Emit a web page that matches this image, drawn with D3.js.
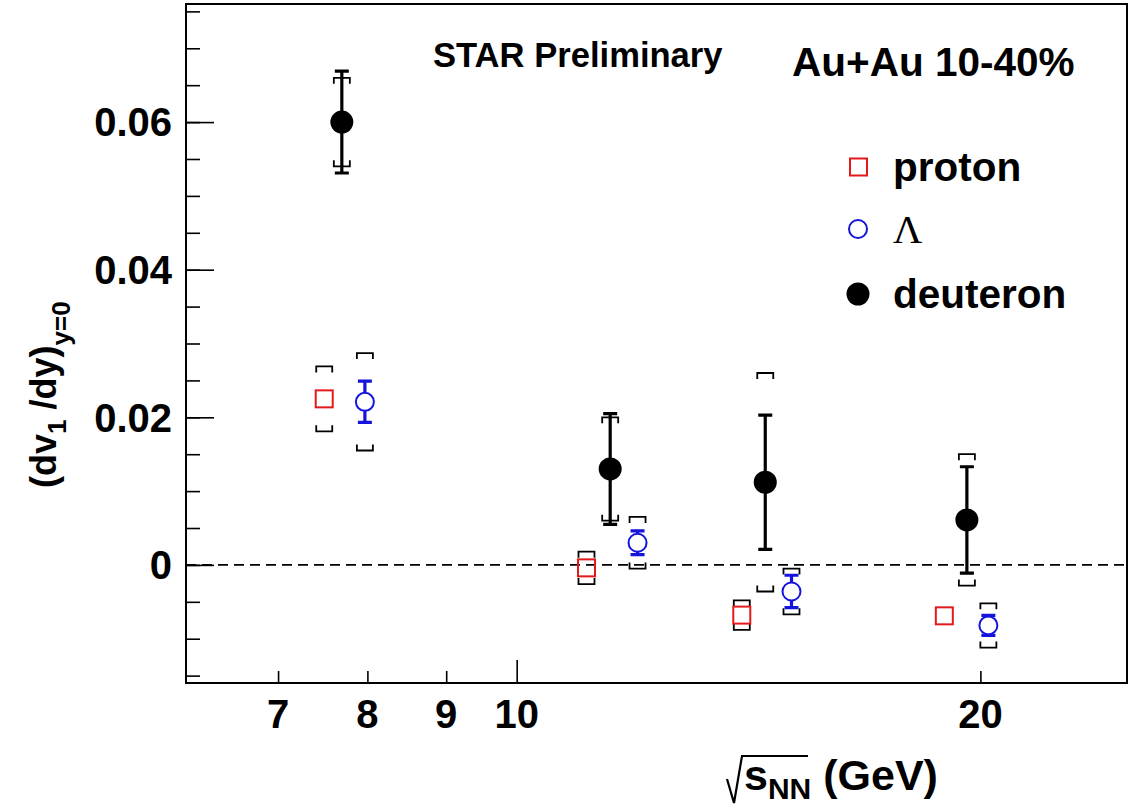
<!DOCTYPE html>
<html>
<head>
<meta charset="utf-8">
<script src="https://cdn.jsdelivr.net/npm/d3@7"></script>
<style>
  body { margin: 0; background: #fff; }
  svg { display: block; font-family: "Liberation Sans", Arial, sans-serif; font-weight: bold; }
</style>
</head>
<body>
<svg id="chart" width="1136" height="810"></svg>
<script>
// plotted collision energies (GeV), species shifted sideways as in the figure
const protonX = [7.5, 11.1, 14.0, 18.95];
const lambdaX = [7.97, 11.98, 15.08, 20.24];
const deuteronX = [7.7, 11.5, 14.5, 19.6];

// (dv1/dy) at y=0
const protonVal = [0.0225, -0.0004, -0.0068, -0.0069];
const protonStat = [0.0006, 0.0005, 0.0006, 0.0005];
const protonSys = [0.0044, 0.0022, 0.0020, 0];

const lambdaVal = [0.0221, 0.0030, -0.0036, -0.0082];
const lambdaStat = [0.0028, 0.0016, 0.0022, 0.00135];
const lambdaSys = [0.0066, 0.0035, 0.0031, 0.0030];

const deuteronVal = [0.0600, 0.0130, 0.0112, 0.0061];
const deuteronStat = [0.0069, 0.0075, 0.0091, 0.0072];
const deuteronSys = [0.0060, 0.0070, 0.0148, 0.0089];

const xTicks = [7, 8, 9, 10, 20];
const xMajor = [10];
const yTicks = [0, 0.02, 0.04, 0.06];
const yMinor = d3.range(-0.015, 0.0751, 0.005);

const legendLabels = ['proton', 'Λ', 'deuteron'];

const plotLeft = 186, plotRight = 1127, plotTop = 4, plotBottom = 683;
const red = '#e3191c', blue = '#1414dc';

const svg = d3.select('#chart');

const x = d3.scaleLog().domain([6.1, 24.9]).range([plotLeft, plotRight]);
const y = d3.scaleLinear().domain([-0.016, 0.076]).range([plotBottom, plotTop]);

// zero line
svg.append('line')
  .attr('x1', plotLeft).attr('x2', plotRight)
  .attr('y1', y(0)).attr('y2', y(0))
  .attr('stroke', '#000').attr('stroke-width', 1.6)
  .attr('stroke-dasharray', '10,6');

// y axis: minor then major ticks, pointing inward
const yMinorAxis = d3.axisRight(y).tickValues(yMinor).tickSize(14).tickFormat('');
svg.append('g').attr('transform', `translate(${plotLeft},0)`).call(yMinorAxis)
  .call(g => g.select('.domain').remove())
  .selectAll('line').attr('stroke-width', 1.6);

const yAxis = d3.axisRight(y).tickValues(yTicks).tickSize(28).tickFormat('');
svg.append('g').attr('transform', `translate(${plotLeft},0)`).call(yAxis)
  .call(g => g.select('.domain').remove())
  .selectAll('line').attr('stroke-width', 1.6);

svg.append('g').selectAll('text')
  .data(yTicks)
  .join('text')
  .attr('x', 172)
  .attr('y', d => y(d))
  .attr('dy', '0.36em')
  .attr('text-anchor', 'end')
  .attr('font-size', 40)
  .text(d => d === 0 ? '0' : d3.format('.2f')(d));

// x axis ticks
const xAxis = d3.axisTop(x).tickValues(xTicks)
  .tickSize(12).tickFormat('');
svg.append('g').attr('transform', `translate(0,${plotBottom})`).call(xAxis)
  .call(g => g.select('.domain').remove())
  .selectAll('line')
  .attr('y2', d => xMajor.includes(d) ? -23 : -12)
  .attr('stroke-width', 1.6);

svg.append('g').selectAll('text')
  .data(xTicks)
  .join('text')
  .attr('x', d => x(d))
  .attr('y', 728)
  .attr('text-anchor', 'middle')
  .attr('font-size', 40)
  .text(d => d);

// frame
svg.append('rect')
  .attr('x', plotLeft).attr('y', plotTop)
  .attr('width', plotRight - plotLeft).attr('height', plotBottom - plotTop)
  .attr('fill', 'none').attr('stroke', '#000').attr('stroke-width', 2);

// helpers
function sysBrackets(g, xs, vals, sys) {
  const w = 8, leg = 6;
  xs.forEach((xv, i) => {
    if (!sys[i]) return;
    const cx = x(xv);
    const yt = y(vals[i] + sys[i]);
    const yb = y(vals[i] - sys[i]);
    g.append('path')
      .attr('d', `M${cx - w},${yt + leg}V${yt}H${cx + w}V${yt + leg}`)
      .attr('fill', 'none').attr('stroke', '#000').attr('stroke-width', 1.8);
    g.append('path')
      .attr('d', `M${cx - w},${yb - leg}V${yb}H${cx + w}V${yb - leg}`)
      .attr('fill', 'none').attr('stroke', '#000').attr('stroke-width', 1.8);
  });
}

function statBars(g, xs, vals, stat, color, half) {
  xs.forEach((xv, i) => {
    const cx = x(xv);
    const yc = y(vals[i]);
    const yt = y(vals[i] + stat[i]);
    const yb = y(vals[i] - stat[i]);
    if (yc - yt <= half) return;
    g.append('path')
      .attr('d', `M${cx},${yc - half}V${yt}M${cx - 7},${yt}H${cx + 7}` +
                 `M${cx},${yc + half}V${yb}M${cx - 7},${yb}H${cx + 7}`)
      .attr('fill', 'none').attr('stroke', color).attr('stroke-width', 3.2);
  });
}

const marks = svg.append('g');

sysBrackets(marks, protonX, protonVal, protonSys);
sysBrackets(marks, lambdaX, lambdaVal, lambdaSys);
sysBrackets(marks, deuteronX, deuteronVal, deuteronSys);

statBars(marks, protonX, protonVal, protonStat, red, 8.5);
statBars(marks, lambdaX, lambdaVal, lambdaStat, blue, 9);
statBars(marks, deuteronX, deuteronVal, deuteronStat, '#000', 0);

marks.selectAll('rect.proton')
  .data(protonX)
  .join('rect')
  .attr('class', 'proton')
  .attr('x', (d, i) => x(d) - 8.5)
  .attr('y', (d, i) => y(protonVal[i]) - 8.5)
  .attr('width', 17).attr('height', 17)
  .attr('fill', 'none').attr('stroke', red).attr('stroke-width', 2);

marks.selectAll('circle.lambda')
  .data(lambdaX)
  .join('circle')
  .attr('class', 'lambda')
  .attr('cx', d => x(d))
  .attr('cy', (d, i) => y(lambdaVal[i]))
  .attr('r', 9)
  .attr('fill', 'none').attr('stroke', blue).attr('stroke-width', 2);

marks.selectAll('circle.deuteron')
  .data(deuteronX)
  .join('circle')
  .attr('class', 'deuteron')
  .attr('cx', d => x(d))
  .attr('cy', (d, i) => y(deuteronVal[i]))
  .attr('r', 11.5)
  .attr('fill', '#000');

// labels
svg.append('text').attr('x', 433).attr('y', 67)
  .attr('font-size', 34.6).text('STAR Preliminary');
svg.append('text').attr('x', 792).attr('y', 76)
  .attr('font-size', 40.5).text('Au+Au 10-40%');

// legend
const legend = svg.append('g');
const legY = [167, 229, 294];
legend.append('rect')
  .attr('x', 850).attr('y', legY[0] - 8.5).attr('width', 17).attr('height', 17)
  .attr('fill', 'none').attr('stroke', red).attr('stroke-width', 2);
legend.append('circle')
  .attr('cx', 858).attr('cy', legY[1]).attr('r', 9)
  .attr('fill', 'none').attr('stroke', blue).attr('stroke-width', 2);
legend.append('circle')
  .attr('cx', 858).attr('cy', legY[2]).attr('r', 11.5).attr('fill', '#000');

legend.selectAll('text')
  .data(legendLabels)
  .join('text')
  .attr('x', 893)
  .attr('y', (d, i) => legY[i] + 14)
  .attr('font-size', 40.5)
  .attr('font-family', (d, i) => i === 1 ? '"Liberation Serif", "Times New Roman", serif' : null)
  .attr('font-weight', (d, i) => i === 1 ? 'normal' : null)
  .text(d => d);

// y title
const yTitle = svg.append('text')
  .attr('transform', 'translate(56,488) rotate(-90)')
  .attr('font-size', 36);
yTitle.append('tspan').text('(dv');
yTitle.append('tspan').attr('font-size', 26).attr('dy', 10).text('1');
yTitle.append('tspan').attr('dy', -10).text(' /dy)');
yTitle.append('tspan').attr('font-size', 26).attr('dy', 14).text('y=0');

// x title with radical sign
svg.append('path')
  .attr('d', 'M727,779L734,803L742,756H808')
  .attr('fill', 'none').attr('stroke', '#000').attr('stroke-width', 2.2);
const xTitle = svg.append('text')
  .attr('x', 744).attr('y', 790)
  .attr('font-size', 43);
xTitle.append('tspan').text('s');
xTitle.append('tspan').attr('font-size', 30).attr('dy', 9).text('NN');
xTitle.append('tspan').attr('dy', -9).text(' (GeV)');
</script>
</body>
</html>
